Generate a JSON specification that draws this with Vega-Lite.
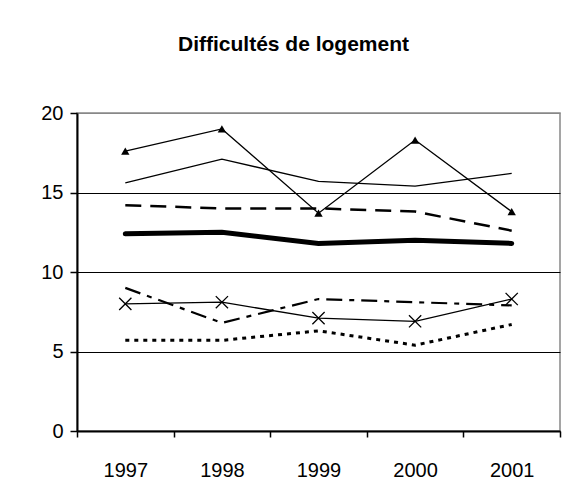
{
  "$schema": "https://vega.github.io/schema/vega-lite/v6.json",
  "width": 483,
  "height": 318,
  "autosize": {"type": "none"},
  "padding": {"left": 77, "top": 113, "right": 6, "bottom": 69},
  "background": "white",
  "title": {
    "text": "Difficultés de logement",
    "font": "Liberation Sans",
    "fontSize": 21,
    "fontWeight": "bold",
    "color": "black",
    "anchor": "middle",
    "frame": "group",
    "dx": -25,
    "offset": 31,
    "baseline": "alphabetic"
  },
  "config": {
    "view": {"stroke": "#888", "strokeWidth": 1.5},
    "font": "Liberation Sans"
  },
  "data": {
    "values": [
      {"year": "1997", "series": "s1", "value": 17.6},
      {"year": "1998", "series": "s1", "value": 19.0},
      {"year": "1999", "series": "s1", "value": 13.7},
      {"year": "2000", "series": "s1", "value": 18.3},
      {"year": "2001", "series": "s1", "value": 13.8},
      {"year": "1997", "series": "s2", "value": 15.6},
      {"year": "1998", "series": "s2", "value": 17.1},
      {"year": "1999", "series": "s2", "value": 15.7},
      {"year": "2000", "series": "s2", "value": 15.4},
      {"year": "2001", "series": "s2", "value": 16.2},
      {"year": "1997", "series": "s3", "value": 14.2},
      {"year": "1998", "series": "s3", "value": 14.0},
      {"year": "1999", "series": "s3", "value": 14.0},
      {"year": "2000", "series": "s3", "value": 13.8},
      {"year": "2001", "series": "s3", "value": 12.6},
      {"year": "1997", "series": "s4", "value": 12.4},
      {"year": "1998", "series": "s4", "value": 12.5},
      {"year": "1999", "series": "s4", "value": 11.8},
      {"year": "2000", "series": "s4", "value": 12.0},
      {"year": "2001", "series": "s4", "value": 11.8},
      {"year": "1997", "series": "s5", "value": 9.0},
      {"year": "1998", "series": "s5", "value": 6.8},
      {"year": "1999", "series": "s5", "value": 8.3},
      {"year": "2000", "series": "s5", "value": 8.1},
      {"year": "2001", "series": "s5", "value": 7.9},
      {"year": "1997", "series": "s6", "value": 8.0},
      {"year": "1998", "series": "s6", "value": 8.1},
      {"year": "1999", "series": "s6", "value": 7.1},
      {"year": "2000", "series": "s6", "value": 6.9},
      {"year": "2001", "series": "s6", "value": 8.3},
      {"year": "1997", "series": "s7", "value": 5.7},
      {"year": "1998", "series": "s7", "value": 5.7},
      {"year": "1999", "series": "s7", "value": 6.3},
      {"year": "2000", "series": "s7", "value": 5.4},
      {"year": "2001", "series": "s7", "value": 6.7}
    ]
  },
  "encoding": {
    "x": {
      "field": "year",
      "type": "ordinal",
      "scale": {"paddingInner": 0, "paddingOuter": 0},
      "axis": {
        "title": null,
        "tickBand": "extent",
        "labelAngle": 0,
        "grid": false,
        "domainColor": "black",
        "domainWidth": 2,
        "tickColor": "black",
        "tickSize": 6,
        "tickWidth": 1.5,
        "labelFontSize": 20,
        "labelFont": "Liberation Sans",
        "labelColor": "black",
        "labelPadding": 23
      }
    },
    "y": {
      "field": "value",
      "type": "quantitative",
      "scale": {"domain": [0, 20], "nice": false},
      "axis": {
        "title": null,
        "values": [0, 5, 10, 15, 20],
        "grid": true,
        "gridColor": {"condition": {"test": "datum.value === 20", "value": "#888"}, "value": "black"},
        "gridWidth": 1,
        "domainColor": "black",
        "domainWidth": 2,
        "tickColor": "black",
        "tickSize": 7,
        "tickWidth": 1.5,
        "labelFontSize": 20,
        "labelFont": "Liberation Sans",
        "labelColor": "black",
        "labelPadding": 7
      }
    }
  },
  "layer": [
    {
      "transform": [{"filter": "datum.series === 's4'"}],
      "mark": {"type": "line", "color": "black", "strokeWidth": 5, "strokeCap": "round"}
    },
    {
      "transform": [{"filter": "datum.series === 's3'"}],
      "mark": {"type": "line", "color": "black", "strokeWidth": 2.5, "strokeDash": [16, 9]}
    },
    {
      "transform": [{"filter": "datum.series === 's5'"}],
      "mark": {"type": "line", "color": "black", "strokeWidth": 2.2, "strokeDash": [16, 7, 5, 7]}
    },
    {
      "transform": [{"filter": "datum.series === 's7'"}],
      "mark": {"type": "line", "color": "black", "strokeWidth": 3, "strokeDash": [4, 5]}
    },
    {
      "transform": [{"filter": "datum.series === 's2'"}],
      "mark": {"type": "line", "color": "black", "strokeWidth": 1.3}
    },
    {
      "transform": [{"filter": "datum.series === 's1'"}],
      "mark": {"type": "line", "color": "black", "strokeWidth": 1.3}
    },
    {
      "transform": [{"filter": "datum.series === 's1'"}],
      "mark": {"type": "point", "shape": "triangle-up", "filled": true, "size": 70, "color": "black", "opacity": 1}
    },
    {
      "transform": [{"filter": "datum.series === 's6'"}],
      "mark": {"type": "line", "color": "black", "strokeWidth": 1.3}
    },
    {
      "transform": [{"filter": "datum.series === 's6'"}],
      "mark": {"type": "point", "shape": "M-1,-1L1,1M-1,1L1,-1", "filled": false, "size": 150, "stroke": "black", "strokeWidth": 1.3, "opacity": 1}
    }
  ]
}
